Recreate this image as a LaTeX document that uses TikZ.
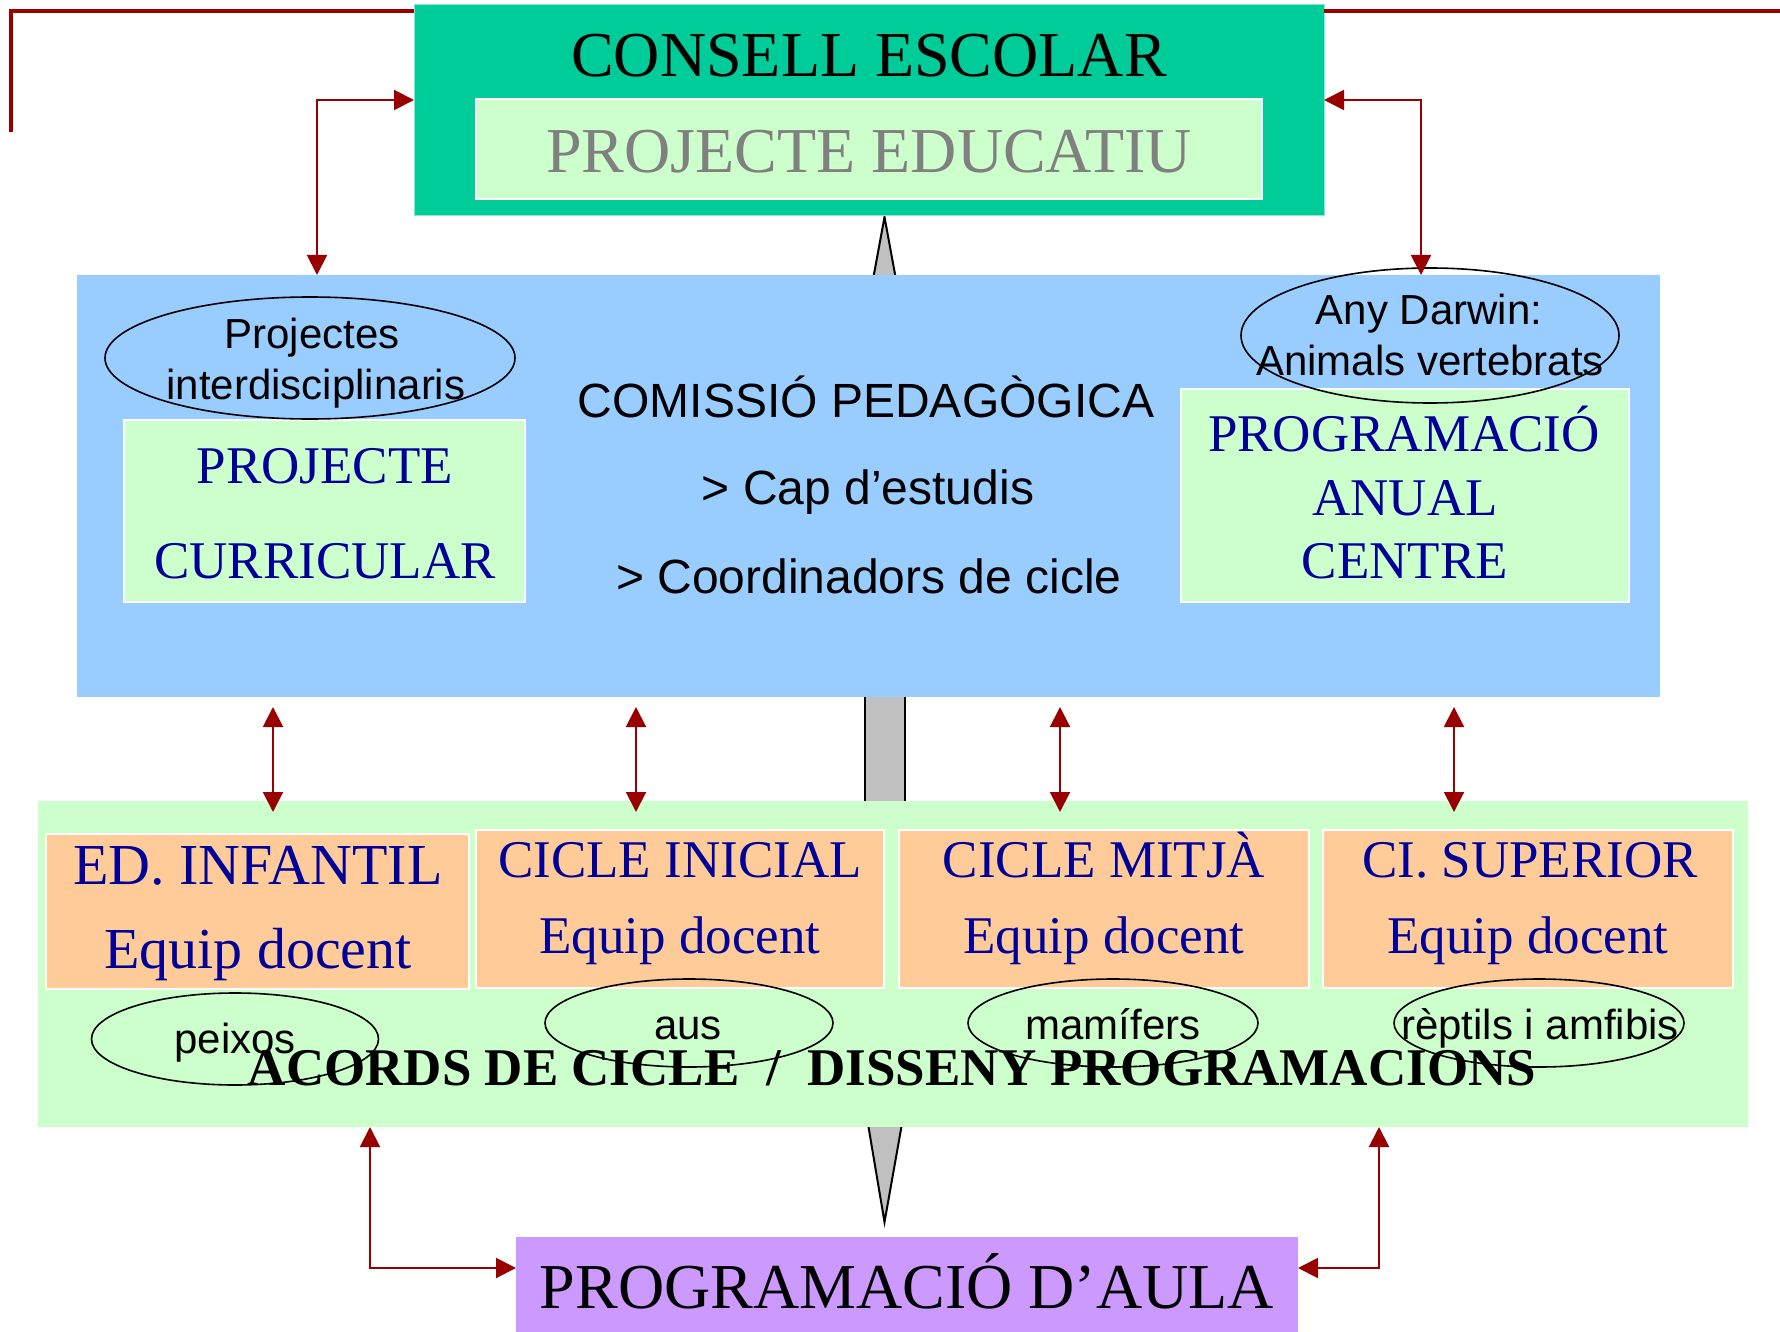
\documentclass[tikz,border=0pt]{standalone}
\usepackage{fontspec}
\setmainfont{Liberation Serif}
\setsansfont{Liberation Sans}
\usetikzlibrary{arrows.meta,shapes.geometric}
\definecolor{redc}{HTML}{990000}
\definecolor{conc}{HTML}{00CC99}
\definecolor{lgreen}{HTML}{CCFFCC}
\definecolor{bluec}{HTML}{99CCFF}
\definecolor{orangec}{HTML}{FFCC99}
\definecolor{purplec}{HTML}{CC99FF}
\definecolor{dblue}{HTML}{000099}
\definecolor{grayt}{HTML}{808080}
\definecolor{grayf}{HTML}{C0C0C0}
\newcommand\myfs[1]{\fontsize{#1pt}{#1pt}\selectfont}
\begin{document}
\begin{tikzpicture}[x=1pt,y=-1pt,
  box/.style={rectangle, inner sep=0pt, outer sep=0pt},
  wbox/.style={box, draw=white, line width=2pt},
  txt/.style={anchor=base, inner sep=0pt, outer sep=0pt},
  serif/.style={font=\myfs{#1}},
  sans/.style={font=\sffamily\myfs{#1}},
  ell/.style={ellipse, draw=black, line width=1.6pt, inner sep=0pt},
  dbl/.style={draw=redc, line width=2pt, {Triangle[length=20pt,width=20pt]}-{Triangle[length=20pt,width=20pt]}},
  frame/.style={draw=redc, line width=3.5pt},
  grayshape/.style={fill=grayf, draw=black, line width=2pt}
]
\useasboundingbox (0,0) rectangle (1780,1332);

% gray arrow parts (behind boxes)
\coordinate (gt1) at (872,285);
\coordinate (gt2) at (897,285);
\coordinate (gtip) at (884.5,217);
\filldraw[grayshape] (gt1) -- (gtip) -- (gt2) -- cycle;
\coordinate (gr1) at (865,690);
\coordinate (gr2) at (905,810);
\filldraw[grayshape] (gr1) rectangle (gr2);
\coordinate (gb1) at (867,1118);
\coordinate (gb2) at (903,1118);
\coordinate (gbtip) at (884.5,1222);
\filldraw[grayshape] (gb1) -- (gbtip) -- (gb2) -- cycle;

% boxes
\node[box, fill=conc, draw=white!55!conc, line width=1pt, minimum width=910pt, minimum height=211pt] (consell) at (869,110.5) {};
\node[wbox, fill=lgreen, minimum width=786pt, minimum height=100pt] (pe) at (869,149) {};
\node[box, fill=bluec, minimum width=1583pt, minimum height=422pt] (cp) at (868.5,486) {};
\node[wbox, fill=lgreen, minimum width=401pt, minimum height=182pt] (pc) at (324.5,511) {};
\node[wbox, fill=lgreen, minimum width=448pt, minimum height=213pt] (pac) at (1405,495.5) {};
\node[box, fill=lgreen, minimum width=1710pt, minimum height=326pt] (acords) at (893,964) {};
\node[wbox, fill=orangec, minimum width=423pt, minimum height=155pt] (ed) at (257.5,911.5) {};
\node[wbox, fill=orangec, minimum width=408pt, minimum height=158pt] (ci) at (680,909) {};
\node[wbox, fill=orangec, minimum width=410pt, minimum height=158pt] (cm) at (1104,909) {};
\node[wbox, fill=orangec, minimum width=410pt, minimum height=158pt] (cs) at (1528,909) {};
\node[box, fill=purplec, minimum width=782pt, minimum height=96pt] (aula) at (907,1285) {};

% texts
\node[txt, serif=64] (tconsell) at (869,77) {CONSELL ESCOLAR};
\node[txt, serif=64, text=grayt] (tpe) at (869,173) {PROJECTE EDUCATIU};
\node[txt, sans=48] (tcp1) at (866,417) {COMISSIÓ PEDAGÒGICA};
\node[txt, sans=48] (tcp2) at (868,504) {> Cap d’estudis};
\node[txt, sans=48] (tcp3) at (869,593) {> Coordinadors de cicle};
\node[txt, sans=42] (tpi1) at (312,348) {Projectes};
\node[txt, sans=42] (tpi2) at (316,399) {interdisciplinaris};
\node[txt, sans=42] (tad1) at (1429,324) {Any Darwin:};
\node[txt, sans=42] (tad2) at (1430,375) {Animals vertebrats};
\node[txt, serif=53, text=dblue] (tpc1) at (325,483) {PROJECTE};
\node[txt, serif=53, text=dblue] (tpc2) at (325,578) {CURRICULAR};
\node[txt, serif=53, text=dblue] (tpa1) at (1404,451) {PROGRAMACIÓ};
\node[txt, serif=53, text=dblue] (tpa2) at (1405,515) {ANUAL};
\node[txt, serif=53, text=dblue] (tpa3) at (1405,578) {CENTRE};
\node[txt, serif=58, text=dblue] (ted1) at (258,884) {ED. INFANTIL};
\node[txt, serif=58, text=dblue] (ted2) at (258,968) {Equip docent};
\node[txt, serif=53, text=dblue] (tci1) at (680,877) {CICLE INICIAL};
\node[txt, serif=53, text=dblue] (tci2) at (680,953) {Equip docent};
\node[txt, serif=53, text=dblue] (tcm1) at (1104,877) {CICLE MITJÀ};
\node[txt, serif=53, text=dblue] (tcm2) at (1104,953) {Equip docent};
\node[txt, serif=53, text=dblue] (tcs1) at (1530,877) {CI. SUPERIOR};
\node[txt, serif=53, text=dblue] (tcs2) at (1528,953) {Equip docent};
\node[txt, font=\bfseries\myfs{53}] (tacords) at (892,1085) {ACORDS DE CICLE\ \ /\ \ DISSENY PROGRAMACIONS};
\node[txt, sans=42] (tpeix) at (235,1053) {peixos};
\node[txt, sans=42] (taus) at (688,1039) {aus};
\node[txt, sans=42] (tmam) at (1113,1039) {mamífers};
\node[txt, sans=42] (trep) at (1540,1039) {rèptils i amfibis};
\node[txt, serif=64] (taula) at (907,1308) {PROGRAMACIÓ D’AULA};

% ellipses
\node[ell, minimum width=410pt, minimum height=122pt] (e1) at (310,358) {};
\node[ell, minimum width=378pt, minimum height=135pt] (e2) at (1430,335.5) {};
\node[ell, minimum width=287pt, minimum height=92pt] (e3) at (235,1039) {};
\node[ell, minimum width=288pt, minimum height=88pt] (e4) at (689,1023) {};
\node[ell, minimum width=290pt, minimum height=88pt] (e5) at (1113,1023) {};
\node[ell, minimum width=290pt, minimum height=88pt] (e6) at (1539,1023) {};

% red frame lines
\coordinate (ftop) at (0,11);
\coordinate (fl) at (11,132);
\coordinate (fr) at (1780,11);
\draw[frame] (consell.west |- ftop) -| (fl);
\draw[frame] (consell.east |- ftop) -- (fr);

% red connectors
\coordinate (tl) at (317,100);
\coordinate (tr) at (1421,100);
\draw[dbl] (consell.west |- tl) -| (tl |- cp.north);
\draw[dbl] (consell.east |- tr) -| (tr |- cp.north);
\coordinate (m1) at (273,0);
\coordinate (m2) at (636,0);
\coordinate (m3) at (1060,0);
\coordinate (m4) at (1454,0);
\foreach \m in {m1,m2,m3,m4}{
  \draw[dbl] ([yshift=-10pt]cp.south -| \m) -- ([yshift=-11pt]acords.north -| \m);
}
\coordinate (bl) at (370,1268);
\coordinate (br) at (1379,1268);
\draw[dbl] (bl |- acords.south) |- (aula.west |- bl);
\draw[dbl] (br |- acords.south) |- (aula.east |- br);
\end{tikzpicture}
\end{document}
